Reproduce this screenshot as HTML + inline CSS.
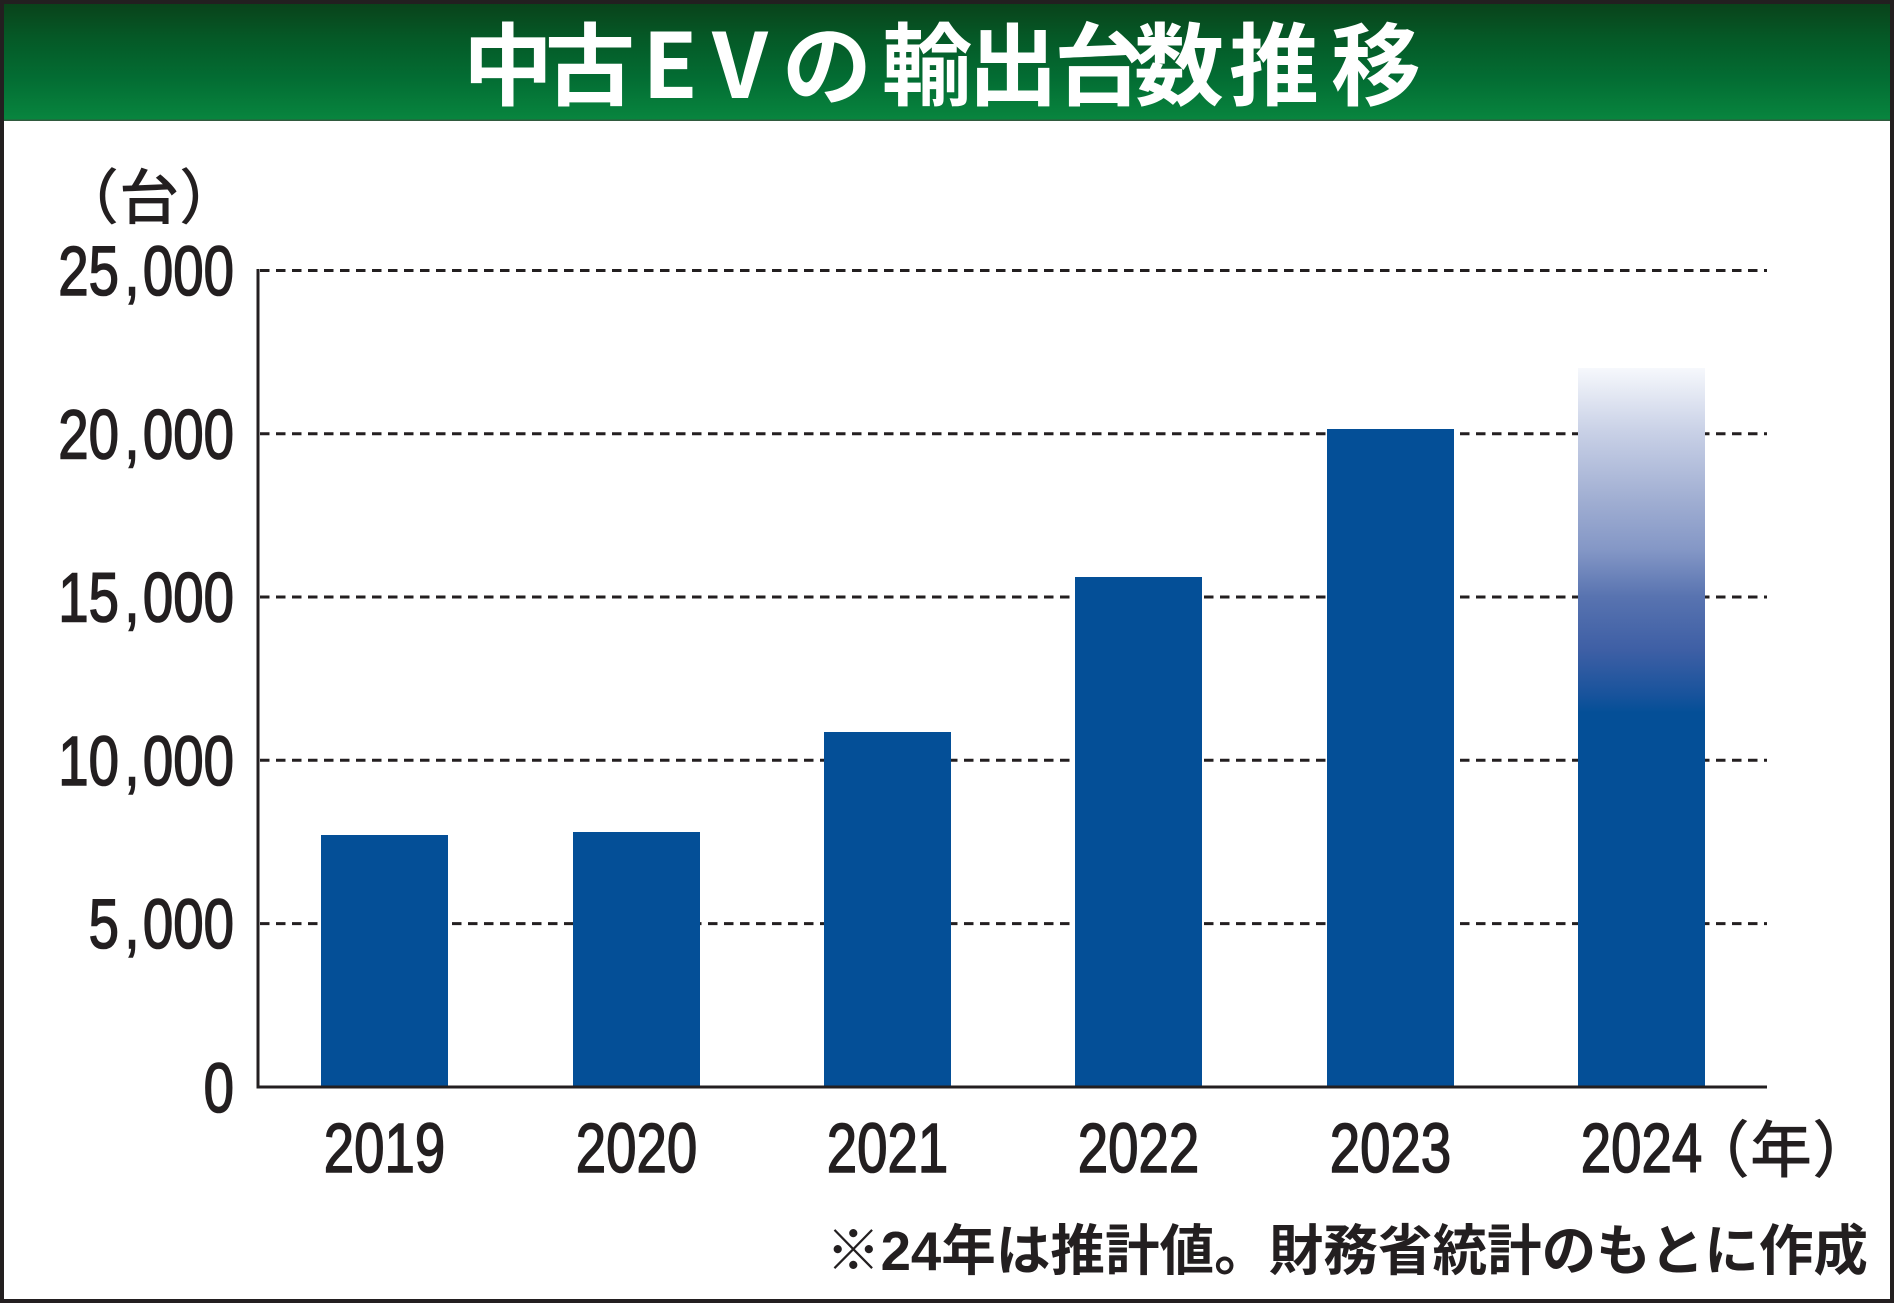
<!DOCTYPE html>
<html>
<head>
<meta charset="utf-8">
<style>
html,body{margin:0;padding:0;background:#fff;}
svg{display:block;}
</style>
</head>
<body>
<svg width="1894" height="1303" viewBox="0 0 1894 1303" xmlns="http://www.w3.org/2000/svg">
  <defs>
    <linearGradient id="hdr" x1="0" y1="0" x2="0" y2="1">
      <stop offset="0" stop-color="#0a4019"/>
      <stop offset="0.3" stop-color="#055826"/>
      <stop offset="0.65" stop-color="#036d33"/>
      <stop offset="1" stop-color="#08863f"/>
    </linearGradient>
    <linearGradient id="bar24" gradientUnits="userSpaceOnUse" x1="0" y1="368" x2="0" y2="1086">
      <stop offset="0" stop-color="#f6f8fc"/>
      <stop offset="0.09" stop-color="#c8d0e6"/>
      <stop offset="0.184" stop-color="#a0aed2"/>
      <stop offset="0.253" stop-color="#8497c6"/>
      <stop offset="0.319" stop-color="#5873b0"/>
      <stop offset="0.393" stop-color="#3e5fa5"/>
      <stop offset="0.455" stop-color="#18539c"/>
      <stop offset="0.48" stop-color="#044f97"/>
      <stop offset="1" stop-color="#044f97"/>
    </linearGradient>
  </defs>

  <rect x="0" y="0" width="1894" height="1303" fill="#ffffff"/>
  <!-- header -->
  <rect x="0" y="0" width="1894" height="121" fill="url(#hdr)"/>
  <rect x="0" y="119.5" width="1894" height="1.5" fill="#2f5a3e"/>

  <text y="98" font-family="'Noto Sans CJK JP','Noto Sans CJK SC',sans-serif" font-weight="700" font-size="90" fill="#ffffff" text-anchor="middle"
        x="508 590 670 740 827 927 1013 1099 1179 1274 1376">中古EVの輸出台数推移</text>

  <!-- unit label -->
  <text x="59" y="219" font-family="'Noto Sans CJK JP','Noto Sans CJK SC',sans-serif" font-weight="500" font-size="60" fill="#231f20">（台）</text>

  <!-- gridlines -->
  <g stroke="#231f20" stroke-width="3" stroke-dasharray="9.5 6.5" fill="none">
    <line x1="260" y1="270.5" x2="1767" y2="270.5"/>
    <line x1="260" y1="433.8" x2="1767" y2="433.8"/>
    <line x1="260" y1="597" x2="1767" y2="597"/>
    <line x1="260" y1="760.3" x2="1767" y2="760.3"/>
    <line x1="260" y1="923.6" x2="1767" y2="923.6"/>
  </g>

  <!-- bars -->
  <g fill="#044f97">
    <rect x="321" y="835" width="127" height="252"/>
    <rect x="573" y="832" width="127" height="255"/>
    <rect x="824" y="732" width="127" height="355"/>
    <rect x="1075" y="577" width="127" height="510"/>
    <rect x="1327" y="429" width="127" height="658"/>
  </g>
  <rect x="1578" y="368" width="127" height="719" fill="url(#bar24)"/>

  <!-- axes -->
  <line x1="258" y1="269" x2="258" y2="1088.5" stroke="#231f20" stroke-width="3"/>
  <line x1="256.5" y1="1087" x2="1767" y2="1087" stroke="#231f20" stroke-width="3"/>

  <!-- y tick labels -->
  <g font-family="'Liberation Sans',Arial,sans-serif" font-size="70" fill="#231f20" stroke="#231f20" stroke-width="1.6">
    <text transform="translate(119,295) scale(0.78,1)" text-anchor="end">25</text>
    <text transform="translate(132,295) scale(0.78,1)" text-anchor="middle">,</text>
    <text transform="translate(234,295) scale(0.78,1)" text-anchor="end">000</text>

    <text transform="translate(119,458.3) scale(0.78,1)" text-anchor="end">20</text>
    <text transform="translate(132,458.3) scale(0.78,1)" text-anchor="middle">,</text>
    <text transform="translate(234,458.3) scale(0.78,1)" text-anchor="end">000</text>

    <text transform="translate(119,621.5) scale(0.78,1)" text-anchor="end">15</text>
    <text transform="translate(132,621.5) scale(0.78,1)" text-anchor="middle">,</text>
    <text transform="translate(234,621.5) scale(0.78,1)" text-anchor="end">000</text>

    <text transform="translate(119,784.8) scale(0.78,1)" text-anchor="end">10</text>
    <text transform="translate(132,784.8) scale(0.78,1)" text-anchor="middle">,</text>
    <text transform="translate(234,784.8) scale(0.78,1)" text-anchor="end">000</text>

    <text transform="translate(119,948.1) scale(0.78,1)" text-anchor="end">5</text>
    <text transform="translate(132,948.1) scale(0.78,1)" text-anchor="middle">,</text>
    <text transform="translate(234,948.1) scale(0.78,1)" text-anchor="end">000</text>

    <text transform="translate(234,1112) scale(0.78,1)" text-anchor="end">0</text>
  </g>

  <!-- x labels -->
  <g font-family="'Liberation Sans',Arial,sans-serif" font-size="70" fill="#231f20" stroke="#231f20" stroke-width="1.6" text-anchor="middle">
    <text transform="translate(384.5,1172) scale(0.78,1)">2019</text>
    <text transform="translate(636.5,1172) scale(0.78,1)">2020</text>
    <text transform="translate(887.5,1172) scale(0.78,1)">2021</text>
    <text transform="translate(1138.5,1172) scale(0.78,1)">2022</text>
    <text transform="translate(1390.5,1172) scale(0.78,1)">2023</text>
    <text transform="translate(1641.5,1172) scale(0.78,1)">2024</text>
  </g>
  <text x="1688" y="1172" font-family="'Noto Sans CJK JP','Noto Sans CJK SC',sans-serif" font-weight="500" font-size="62" fill="#231f20">（年）</text>

  <!-- footnote -->
  <text x="826" y="1270" textLength="1042" lengthAdjust="spacingAndGlyphs" font-family="'Liberation Sans','Noto Sans CJK JP','Noto Sans CJK SC',sans-serif" font-weight="700" font-size="55" fill="#231f20">※24年は推計値。財務省統計のもとに作成</text>

  <!-- outer frame -->
  <rect x="2" y="2" width="1890" height="1299" fill="none" stroke="#231f20" stroke-width="4"/>
</svg>
</body>
</html>
